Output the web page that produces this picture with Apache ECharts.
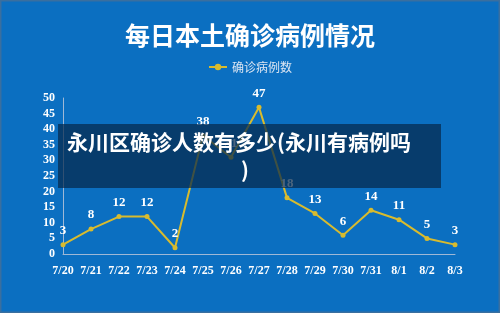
<!DOCTYPE html>
<html><head><meta charset="utf-8">
<style>html,body{margin:0;padding:0;background:#0b6fc1;}#c{width:500px;height:313px;}</style>
<script src="https://cdn.jsdelivr.net/npm/echarts@6/dist/echarts.min.js"></script>
</head><body><div id="c"></div>
<script>
var categories = ['7/20','7/21','7/22','7/23','7/24','7/25','7/26','7/27','7/28','7/29','7/30','7/31','8/1','8/2','8/3'];
var cases = [3, 8, 12, 12, 2, 38, 31, 47, 18, 13, 6, 14, 11, 5, 3];
var seriesName = '确诊病例数';
var titleText = '每日本土确诊病例情况';
var overlayLine1 = '永川区确诊人数有多少(永川有病例吗';
var overlayLine2 = ')';

var chart = echarts.init(document.getElementById('c'), null, {renderer:'canvas'});
chart.setOption({
  backgroundColor: '#0b6fc1',
  animation: false,
  title: {
    text: titleText, left: 'center', top: 18,
    textStyle: {color:'#ffffff', fontSize: 25, fontWeight:'bold', fontFamily:'Noto Sans CJK SC'}
  },
  legend: {
    data: [seriesName], left: 'center', top: 56, itemWidth: 18, itemHeight: 8,
    textStyle: {color:'#dde6f2', fontSize: 12, fontFamily:'Noto Sans CJK SC'}
  },
  grid: {left: 63, right: 45, top: 98, bottom: 59, containLabel: false},
  xAxis: {
    type: 'category', data: categories, boundaryGap: false,
    axisLine: {lineStyle:{color:'#9fb8d6', width:1}},
    axisTick: {show:false},
    axisLabel: {color:'#ffffff', fontSize: 12, fontWeight:'bold', fontFamily:'Liberation Serif', margin: 11, interval: 0}
  },
  yAxis: {
    type: 'value', min: 0, max: 50, interval: 5,
    axisLine: {show:true, lineStyle:{color:'#9fb8d6', width:1}},
    axisTick: {show:false},
    splitLine: {show:false},
    axisLabel: {color:'#ffffff', fontSize: 12, fontWeight:'bold', fontFamily:'Liberation Serif', margin: 8}
  },
  series: [{
    name: seriesName, type: 'line', data: cases,
    symbol: 'circle', symbolSize: 5,
    lineStyle: {color:'#d8bb2e', width: 2},
    itemStyle: {color:'#d8bb2e'},
    label: {show: true, position: 'top', distance: 5, color:'#ffffff', fontSize: 13, fontWeight:'bold', fontFamily:'Liberation Sans Narrow'}
  }],
  graphic: [
    {type:'rect', z: 100, shape:{x:58, y:124, width:383, height:64}, style:{fill:'rgba(5,40,75,0.72)'}},
    {type:'text', z: 101, style:{x:67, y:142, text: overlayLine1, fill:'#ffffff', font:'bold 21px "Noto Sans CJK SC"', textVerticalAlign:'middle'}},
    {type:'text', z: 101, style:{x:245, y:170, text: overlayLine2, fill:'#ffffff', font:'bold 21px "Noto Sans CJK SC"', textAlign:'center', textVerticalAlign:'middle'}},
    {type:'rect', z: 100, shape:{x:0.5, y:0.5, width:499, height:312}, style:{fill:'none', stroke:'#3a6f9f', lineWidth:2}}
  ]
});
</script></body></html>
